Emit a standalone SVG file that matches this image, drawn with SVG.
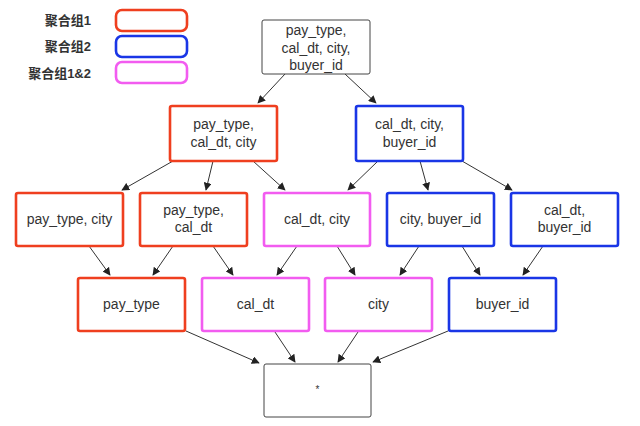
<svg xmlns="http://www.w3.org/2000/svg" width="640" height="426" viewBox="0 0 640 426">
<style>
.n{fill:#fff;stroke-width:2.6}
.r{stroke:#ef3f1f}
.b{stroke:#1a36e6}
.m{stroke:#f25cf0}
.k{stroke:#444;stroke-width:1}
.t{font-family:"Liberation Sans",Arial,sans-serif;font-size:14px;fill:#333;text-anchor:middle}
.lg{font-family:"Liberation Sans","Noto Sans CJK SC",sans-serif;font-size:13px;font-weight:bold;fill:#333;text-anchor:end}
.c line{stroke:#333;stroke-width:1;marker-end:url(#ah)}
</style>
<defs>
<marker id="ah" viewBox="0 0 10 10" refX="9" refY="5" markerWidth="8" markerHeight="8" markerUnits="userSpaceOnUse" orient="auto">
<path d="M0,0 L10,5 L0,10 z" fill="#222"/>
</marker>
</defs>
<rect width="640" height="426" fill="#fff"/>
<g id="legend">
<text class="lg" x="91" y="25">聚合组1</text>
<text class="lg" x="91" y="51">聚合组2</text>
<text class="lg" x="91" y="78">聚合组1&amp;2</text>
<rect class="n r" x="116" y="10" width="71" height="21" rx="6"/>
<rect class="n b" x="116" y="36" width="71" height="21" rx="6"/>
<rect class="n m" x="116" y="62" width="71" height="21" rx="6"/>
</g>
<g class="c" id="connectors">
<line x1="285" y1="74" x2="258" y2="103"/>
<line x1="345" y1="74" x2="376" y2="103"/>
<line x1="173" y1="161" x2="122" y2="190"/>
<line x1="213" y1="161" x2="206" y2="190"/>
<line x1="253" y1="161" x2="285" y2="190"/>
<line x1="378" y1="161" x2="348" y2="190"/>
<line x1="420" y1="161" x2="428" y2="190"/>
<line x1="462" y1="161" x2="512" y2="190"/>
<line x1="89" y1="246" x2="110" y2="275"/>
<line x1="173" y1="246" x2="153" y2="275"/>
<line x1="213" y1="246" x2="233" y2="275"/>
<line x1="297" y1="246" x2="277" y2="275"/>
<line x1="337" y1="246" x2="355" y2="275"/>
<line x1="419" y1="246" x2="400" y2="275"/>
<line x1="462" y1="246" x2="480" y2="275"/>
<line x1="543" y1="246" x2="523" y2="275"/>
<line x1="186" y1="331" x2="259" y2="363"/>
<line x1="275" y1="332" x2="295" y2="362"/>
<line x1="358" y1="332" x2="338" y2="362"/>
<line x1="448" y1="331" x2="373" y2="362"/>
</g>
<g id="n_all4">
<rect class="n k" x="262" y="20" width="108" height="54" rx="2"/>
<text class="t" x="316" y="35">pay_type,</text>
<text class="t" x="316" y="52.5">cal_dt, city,</text>
<text class="t" x="316" y="70">buyer_id</text>
</g>
<g id="n_ptcc">
<rect class="n r" x="170" y="106" width="107" height="55" rx="2"/>
<text class="t" x="223.5" y="128.5">pay_type,</text>
<text class="t" x="223.5" y="147">cal_dt, city</text>
</g>
<g id="n_ccb">
<rect class="n b" x="356" y="106" width="107" height="55" rx="2"/>
<text class="t" x="409.5" y="128.5">cal_dt, city,</text>
<text class="t" x="409.5" y="147">buyer_id</text>
</g>
<g id="n_ptc">
<rect class="n r" x="16" y="193" width="107" height="53" rx="2"/>
<text class="t" x="69.5" y="224">pay_type, city</text>
</g>
<g id="n_ptcd">
<rect class="n r" x="140" y="193" width="107" height="53" rx="2"/>
<text class="t" x="193.5" y="215">pay_type,</text>
<text class="t" x="193.5" y="232">cal_dt</text>
</g>
<g id="n_cdc">
<rect class="n m" x="264" y="193" width="106" height="53" rx="2"/>
<text class="t" x="317" y="224">cal_dt, city</text>
</g>
<g id="n_cb">
<rect class="n b" x="387" y="193" width="107" height="53" rx="2"/>
<text class="t" x="440.5" y="224">city, buyer_id</text>
</g>
<g id="n_cdb">
<rect class="n b" x="511" y="193" width="107" height="53" rx="2"/>
<text class="t" x="564.5" y="215">cal_dt,</text>
<text class="t" x="564.5" y="232">buyer_id</text>
</g>
<g id="n_pt">
<rect class="n r" x="78" y="278" width="107" height="53" rx="2"/>
<text class="t" x="131.5" y="309">pay_type</text>
</g>
<g id="n_cd">
<rect class="n m" x="202" y="278" width="107" height="53" rx="2"/>
<text class="t" x="255.5" y="309">cal_dt</text>
</g>
<g id="n_city">
<rect class="n m" x="325" y="278" width="107" height="53" rx="2"/>
<text class="t" x="378.5" y="309">city</text>
</g>
<g id="n_bid">
<rect class="n b" x="449" y="278" width="107" height="53" rx="2"/>
<text class="t" x="502.5" y="309">buyer_id</text>
</g>
<g id="n_star">
<rect class="n k" x="264" y="364" width="107" height="53" rx="2"/>
<text class="t" x="317.5" y="393" style="font-size:10px">*</text>
</g>
</svg>
